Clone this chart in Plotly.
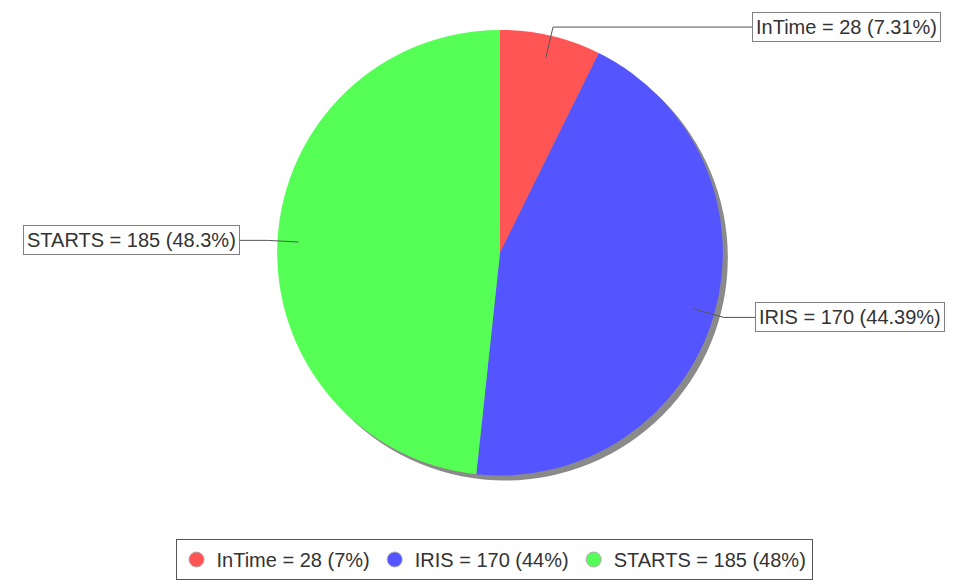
import math
import plotly.graph_objects as go

# ---- data ----
names = ["InTime", "IRIS", "STARTS"]
values = [28, 170, 185]
colors = ["#FF5555", "#5555FF", "#55FF55"]

# ---- layout constants (pixels, in reference-screenshot coordinates) ----
OFF = 8                          # page body margin
W, H = 955 - OFF, 588 - 2 * OFF  # figure size (no page overflow vertically)
CX, CY, R = 500, 254, 224
SHADOW_DX, SHADOW_DY = 5, 5
label_edge_x = [752, 755, 240]   # box edge the leader line meets
LEGEND_CX, LEGEND_TOP = 494, 542
FONT = "Liberation Sans, Arial, sans-serif"
TEXT = "#333333"

total = sum(values)
pcts = [v / total * 100 for v in values]


def fmt(p, nd):
    s = f"{p:.{nd}f}"
    if "." in s:
        s = s.rstrip("0").rstrip(".")
    return s


def px(x):
    return (x - OFF) / W


def py(y):
    return 1 - (y - OFF) / H


def domain(cx, cy):
    return dict(x=[px(cx - R), px(cx + R)], y=[py(cy + R), py(cy - R)])


fig = go.Figure()

# shadow
fig.add_trace(go.Pie(values=[1], labels=["shadow"], marker=dict(colors=["#8a8a8a"], line=dict(width=0)),
                     textinfo="none", hoverinfo="skip", showlegend=False, sort=False,
                     domain=domain(CX + SHADOW_DX, CY + SHADOW_DY)))
# main pie
fig.add_trace(go.Pie(values=values, labels=names, marker=dict(colors=colors, line=dict(width=0)),
                     textinfo="none", sort=False, direction="clockwise", rotation=0,
                     showlegend=False, domain=domain(CX, CY)))

# legend entries (circle symbols)
for n, v, p, c in zip(names, values, pcts, colors):
    fig.add_trace(go.Scatter(x=[None], y=[None], mode="markers", name=f"{n} = {v} ({round(p)}%)",
                             marker=dict(color=c, size=15, symbol="circle", line=dict(color="#aaaaaa", width=1))))

shapes = []
annotations = []
cum = 0.0
for i, (n, v, p) in enumerate(zip(names, values, pcts)):
    mid = (cum + p / 2) / 100 * 2 * math.pi
    cum += p
    sx, sy = math.sin(mid), -math.cos(mid)
    ax, ay = CX + 0.9 * R * sx, CY + 0.9 * R * sy
    ex, ey = CX + 1.04 * R * sx, CY + 1.04 * R * sy
    bx = label_edge_x[i]
    shapes.append(dict(type="path", xref="paper", yref="paper",
                       path=f"M {px(ax)} {py(ay)} L {px(ex)} {py(ey)} L {px(bx)} {py(ey)}",
                       line=dict(color="#555555", width=1)))
    right = sx > 0
    txt = f"{n} = {v} ({fmt(p, 2)}%)"
    annotations.append(dict(xref="paper", yref="paper", x=px(bx), y=py(ey), text=txt, showarrow=False,
                            xanchor="left" if right else "right", yanchor="middle",
                            borderpad=3, borderwidth=1, bordercolor="#808080", bgcolor="white",
                            font=dict(family=FONT, size=20, color=TEXT)))

fig.update_layout(
    width=W, height=H,
    margin=dict(l=0, r=0, t=0, b=0),
    paper_bgcolor="white", plot_bgcolor="white",
    xaxis=dict(visible=False), yaxis=dict(visible=False),
    shapes=shapes, annotations=annotations,
    showlegend=True,
    legend=dict(orientation="h", x=px(LEGEND_CX), xanchor="center", y=py(LEGEND_TOP), yanchor="top",
                bordercolor="#555555", borderwidth=1, bgcolor="white",
                font=dict(family=FONT, size=20, color=TEXT), itemwidth=30),
    font=dict(family=FONT, color=TEXT),
)

fig.write_html("out.html")
